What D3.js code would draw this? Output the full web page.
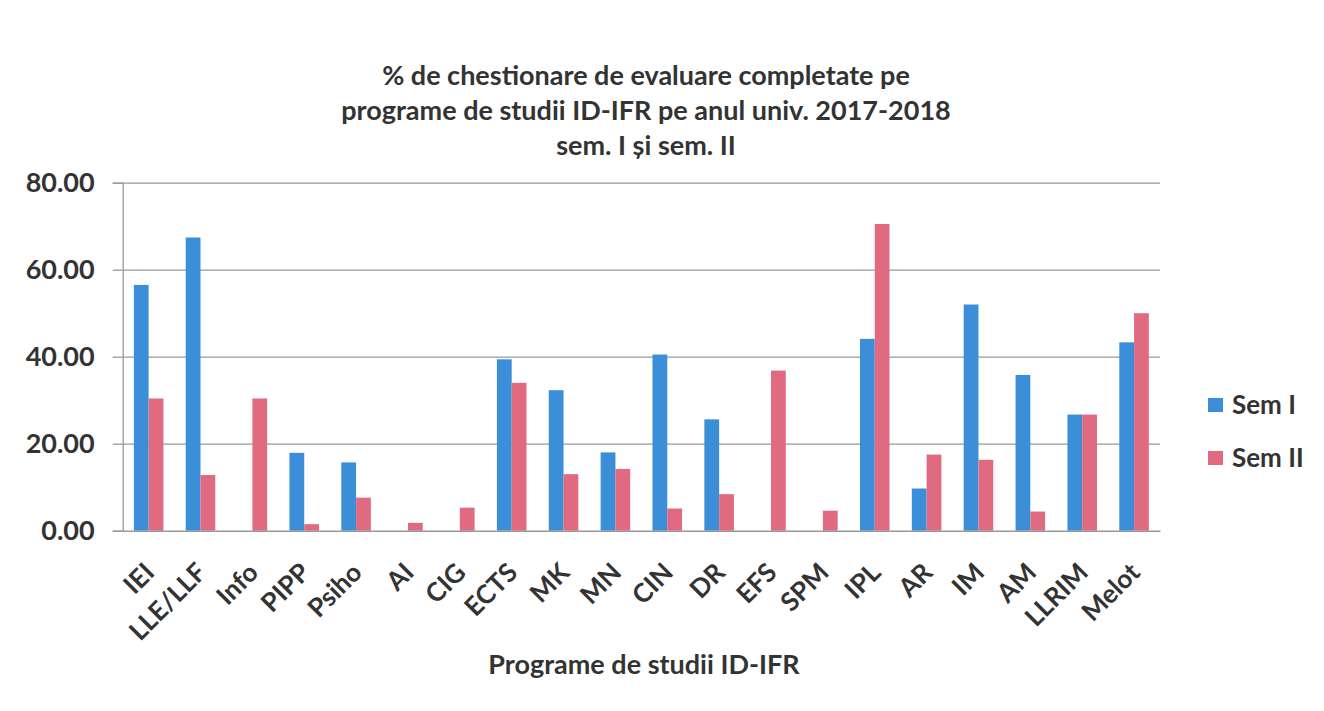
<!DOCTYPE html>
<html>
<head>
<meta charset="utf-8">
<script src="https://cdn.jsdelivr.net/npm/d3@7"></script>
<style>
  body { margin: 0; background: #fff; }
  text { font-family: Lato, "Open Sans", sans-serif; font-weight: bold; fill: #333; }
</style>
</head>
<body>
<div id="chart"></div>
<script>
// data
var categories = ["IEI", "LLE/LLF", "Info", "PIPP", "Psiho", "AI", "CIG", "ECTS", "MK", "MN",
    "CIN", "DR", "EFS", "SPM", "IPL", "AR", "IM", "AM", "LLRIM", "Melot"];
var semI  = [56.5, 67.4, 0, 17.9, 15.7, 0, 0, 39.4, 32.3, 18.0,
    40.5, 25.6, 0, 0, 44.1, 9.7, 52.0, 35.8, 26.7, 43.3];
var semII = [30.4, 12.8, 30.4, 1.5, 7.6, 1.8, 5.3, 34.0, 13.0, 14.2,
    5.1, 8.4, 36.8, 4.6, 70.5, 17.5, 16.3, 4.4, 26.7, 50.0];
var series = ["Sem I", "Sem II"];
var colors = ["#3b8ed8", "#e06b80"];
var yTicks = [0, 20, 40, 60, 80];
var titleLines = ["% de chestionare de evaluare completate pe",
    "programe de studii ID-IFR pe anul univ. 2017-2018",
    "sem. I și sem. II"];

//setup
var width = 1324, height = 711;
var plotLeft = 122.7, plotRight = 1160, plotTop = 182.7, plotBottom = 530.7;

var svg = d3.select("#chart").append("svg")
    .attr("width", width)
    .attr("height", height);

var x0 = d3.scaleBand()
    .domain(categories)
    .range([plotLeft, plotRight])
    .paddingInner(0.43)
    .paddingOuter(0.215);

var x1 = d3.scaleBand()
    .domain(series)
    .range([0, x0.bandwidth()]);

var y = d3.scaleLinear()
    .domain([0, 80])
    .range([plotBottom, plotTop]);

// gridlines + y axis
var yAxis = svg.append("g")
    .attr("transform", "translate(" + plotLeft + ",0)")
    .call(d3.axisLeft(y).tickValues(yTicks).tickFormat(d3.format(".2f")).tickSize(10));
yAxis.select(".domain").attr("stroke", "#999").attr("stroke-width", 1.3);
yAxis.selectAll(".tick line").attr("stroke", "#999").attr("stroke-width", 1.3);
yAxis.selectAll(".tick text")
    .attr("x", -28)
    .style("font-size", "27px");
yAxis.selectAll(".tick").filter(function (d) { return d > 0; })
    .append("line")
    .attr("x2", plotRight - plotLeft)
    .attr("stroke", "#999")
    .attr("stroke-width", 1.3);

//draw bars
var rows = categories.map(function (c, i) {
    return { cat: c, vals: [semI[i], semII[i]] };
});

var groups = svg.selectAll(".grp").data(rows)
    .enter().append("g")
    .attr("class", "grp")
    .attr("transform", function (d) { return "translate(" + x0(d.cat) + ",0)"; });

groups.selectAll("rect")
    .data(function (d) { return d.vals.map(function (v, j) { return { s: series[j], v: v, j: j }; }); })
    .enter().append("rect")
    .filter(function (d) { return d.v > 0; })
    .attr("x", function (d) { return x1(d.s); })
    .attr("width", x1.bandwidth())
    .attr("y", function (d) { return y(d.v); })
    .attr("height", function (d) { return plotBottom - y(d.v); })
    .style("fill", function (d) { return colors[d.j]; });

// x axis
var xAxis = svg.append("g")
    .attr("transform", "translate(0," + plotBottom + ")")
    .call(d3.axisBottom(x0).tickSize(0));
xAxis.select(".domain").attr("stroke", "#999").attr("stroke-width", 1.5);
xAxis.selectAll(".tick text")
    .attr("text-anchor", "end")
    .attr("transform", "translate(1,37) rotate(-45)")
    .attr("dy", "0.35em")
    .attr("y", 0)
    .style("font-size", "26px");

//labels
svg.append("g").selectAll("text").data(titleLines)
    .enter().append("text")
    .attr("x", 646)
    .attr("y", function (d, i) { return 85 + i * 35; })
    .attr("text-anchor", "middle")
    .style("font-size", "27px")
    .text(function (d) { return d; });

svg.append("text")
    .attr("x", 644)
    .attr("y", 674)
    .attr("text-anchor", "middle")
    .style("font-size", "27px")
    .text("Programe de studii ID-IFR");

// legend
var legend = svg.append("g").selectAll("g").data(series)
    .enter().append("g")
    .attr("transform", function (d, i) { return "translate(1208," + (405 + i * 53) + ")"; });
legend.append("rect")
    .attr("x", 0).attr("y", -7)
    .attr("width", 15).attr("height", 14)
    .style("fill", function (d, i) { return colors[i]; });
legend.append("text")
    .attr("x", 24)
    .attr("dy", "0.35em")
    .style("font-size", "26px")
    .text(function (d) { return d; });
</script>
</body>
</html>
